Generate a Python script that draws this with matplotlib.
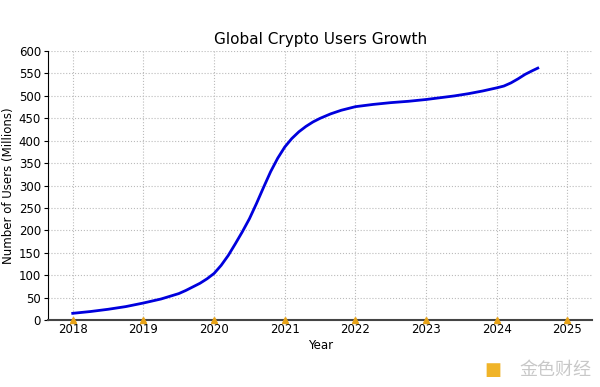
import matplotlib
matplotlib.use("Agg")
import matplotlib.pyplot as plt

# users (millions)
years = [2018.0, 2018.25, 2018.5, 2018.75, 2019.0, 2019.25, 2019.5, 2019.6,
         2019.7, 2019.8, 2019.9, 2020.0, 2020.1, 2020.2, 2020.3, 2020.4,
         2020.5, 2020.6, 2020.7, 2020.8, 2020.9, 2021.0, 2021.1, 2021.2,
         2021.3, 2021.4, 2021.5, 2021.65, 2021.8, 2022.0, 2022.25, 2022.5,
         2022.75, 2023.0, 2023.2, 2023.4, 2023.6, 2023.8, 2024.0, 2024.1,
         2024.2, 2024.3, 2024.4, 2024.5, 2024.58]
users = [15, 19, 24, 30, 38, 47, 59, 66,
         74, 82, 92, 104, 122, 144, 170, 197,
         226, 260, 296, 331, 361, 386, 405, 420,
         432, 442, 450, 460, 468, 476, 481, 485,
         488, 492, 496, 500, 505, 511, 518, 522,
         529, 538, 548, 556, 562]

tick_years = [2018, 2019, 2020, 2021, 2022, 2023, 2024, 2025]
base = [0] * len(tick_years)

fig = plt.figure(figsize=(6, 3.87), dpi=100)
ax = fig.add_axes([0.08, 0.173, 0.907, 0.695])

ax.plot(years, users, color="#0000dd", linewidth=2, zorder=3)
ax.plot(tick_years, base, linestyle="none", marker="^", markersize=4,
        color="#e8a317", clip_on=False, zorder=4)

ax.set_xlim(2017.65, 2025.35)
ax.set_ylim(0, 600)
ax.set_xticks(tick_years)
ax.set_yticks(range(0, 601, 50))
ax.tick_params(labelsize=8.5, length=3)
ax.tick_params(axis="y", pad=2)
ax.tick_params(axis="x", length=0, pad=2)

ax.grid(True, linestyle=":", color="#bbbbbb", linewidth=0.8)
ax.spines["top"].set_visible(False)
ax.spines["right"].set_visible(False)
ax.spines["bottom"].set_color("#444444")
ax.spines["bottom"].set_linewidth(1.5)

ax.set_title("Global Crypto Users Growth", fontsize=11, pad=5)
ax.set_xlabel("Year", fontsize=8.5, labelpad=2)
ax.set_ylabel("Number of Users (Millions)", fontsize=8.5, labelpad=3)

fig.text(0.925, 0.045, "金色财经", fontsize=13, color="#c8c8c8",
         family=["Noto Sans CJK SC", "DejaVu Sans"], ha="center", va="center")
fig.text(0.822, 0.045, "\u25a0", fontsize=13, color="#f0b429",
         ha="center", va="center")

fig.savefig("out.png", dpi=100)
